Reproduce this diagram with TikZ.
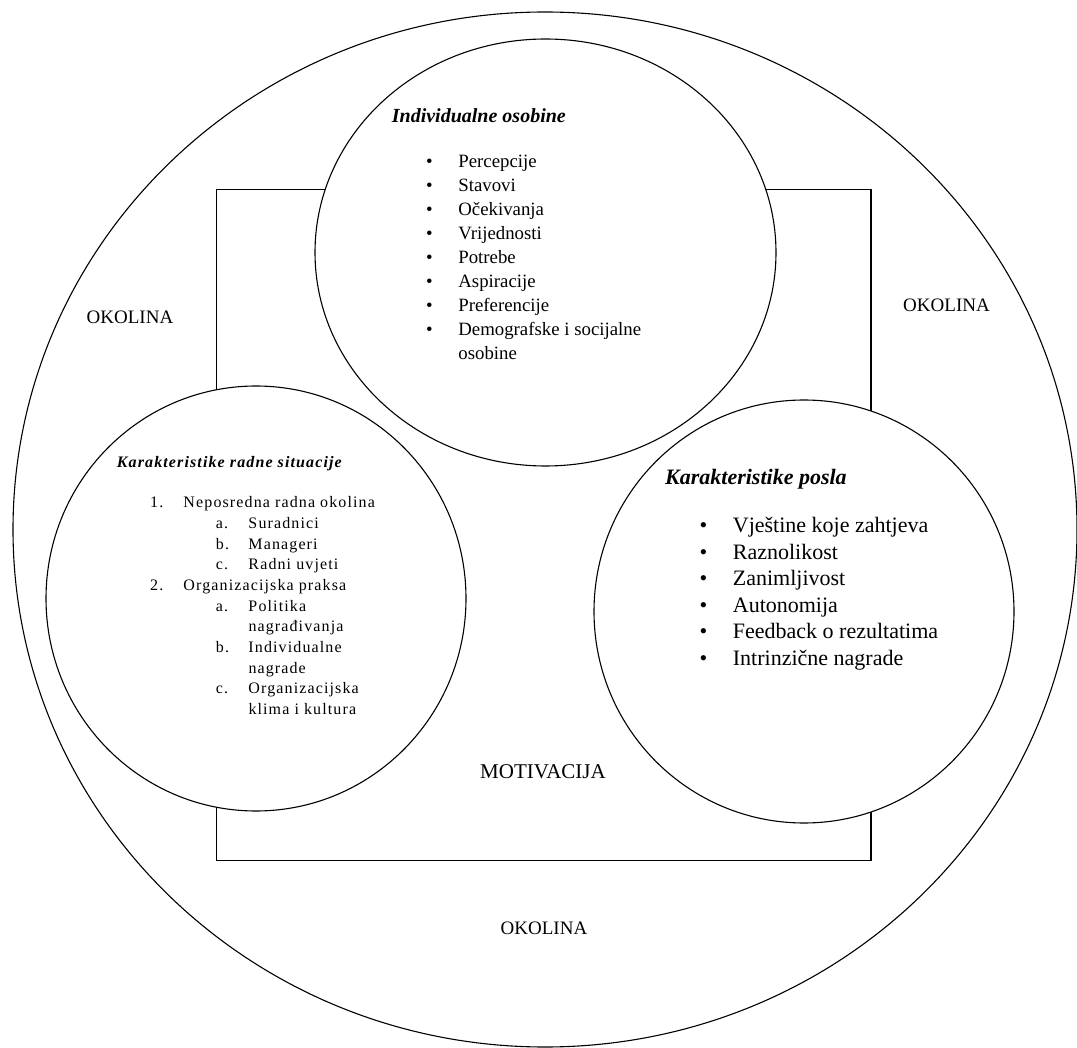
\documentclass[tikz,border=0pt]{standalone}
\usepackage{fontspec}
\setmainfont{Liberation Serif}
\newfontfamily\widefont[LetterSpace=7]{Liberation Serif}
\usetikzlibrary{calc}
\usetikzlibrary{shapes.geometric}
\usetikzlibrary{positioning}
\tikzstyle{circ} = [ellipse, draw, fill=white, line width=1.1pt, inner sep=0pt, outer sep=0pt]
\tikzstyle{word} = [inner sep=0pt, anchor=base]
\tikzstyle{heading} = [inner sep=0pt, anchor=base west]
\tikzstyle{itemlist} = [inner sep=0pt, anchor=base west]

\begin{document}
\begin{tikzpicture}[x=1pt, y=-1pt]
    \useasboundingbox (0,0) rectangle (1077,1048);
    % Draw outer circle and box
    \node[ellipse, draw, line width=1.1pt, inner sep=0pt, minimum width=1064pt, minimum height=1035pt] (okolina) at (545,529.5) {};
    \draw[line width=1.1pt] (216.5,189.5) rectangle (871,860.5);
    % Place circles
    \node[circ, minimum width=461pt, minimum height=427pt] (indiv) at (545.5,252.5) {};
    \node[circ, minimum width=420pt, minimum height=425pt] (situacija) at (256,598.5) {};
    \node[circ, minimum width=420pt, minimum height=423pt] (posao) at (804,611.5) {};
    % Individualne osobine
    \node[heading, font=\fontsize{20}{24}\selectfont\bfseries\itshape] (indivtitle)
        at ($(indiv.center)+(-153.8,-129.8)$) {Individualne osobine};
    \node[itemlist, font=\fontsize{18.8}{24}\selectfont] (indivlist)
        at ($(indiv.center)+(-119.5,-85.2)$) {\begin{tabular}[t]{@{}p{32.2pt}@{}l@{}}
        • & Percepcije\\
        • & Stavovi\\
        • & Očekivanja\\
        • & Vrijednosti\\
        • & Potrebe\\
        • & Aspiracije\\
        • & Preferencije\\
        • & Demografske i socijalne\\
          & osobine
        \end{tabular}};
    % Karakteristike radne situacije
    \node[heading, font=\widefont\fontsize{16}{20.7}\selectfont\bfseries\itshape] (sittitle)
        at ($(situacija.center)+(-139.3,-131.2)$) {Karakteristike radne situacije};
    \node[itemlist, font=\widefont\fontsize{16}{20.7}\selectfont] (sitlist)
        at ($(situacija.center)+(-106,-90.8)$) {\begin{tabular}[t]{@{}p{33.3pt}@{}p{32.4pt}@{}p{32.6pt}@{}l@{}}
        1. & \multicolumn{3}{@{}l@{}}{Neposredna radna okolina}\\
           & & a. & Suradnici\\
           & & b. & Manageri\\
           & & c. & Radni uvjeti\\
        2. & \multicolumn{3}{@{}l@{}}{Organizacijska praksa}\\
           & & a. & Politika\\
           & & & nagrađivanja\\
           & & b. & Individualne\\
           & & & nagrade\\
           & & c. & Organizacijska\\
           & & & klima i kultura
        \end{tabular}};
    % Karakteristike posla
    \node[heading, font=\fontsize{22}{26.5}\selectfont\bfseries\itshape] (posaotitle)
        at ($(posao.center)+(-139,-126.5)$) {Karakteristike posla};
    \node[itemlist, font=\fontsize{22}{26.5}\selectfont] (posaolist)
        at ($(posao.center)+(-104.5,-78.8)$) {\begin{tabular}[t]{@{}p{33.2pt}@{}l@{}}
        • & Vještine koje zahtjeva\\
        • & Raznolikost\\
        • & Zanimljivost\\
        • & Autonomija\\
        • & Feedback o rezultatima\\
        • & Intrinzične nagrade
        \end{tabular}};
    % Outer labels
    \node[word, font=\fontsize{19}{23}\selectfont] (okolinaleft) at (130,324) {OKOLINA};
    \node[word, font=\fontsize{19}{23}\selectfont] (okolinaright) at (946.5,311.5) {OKOLINA};
    \node[word, font=\fontsize{19}{23}\selectfont] (okolinabottom) at (544,934) {OKOLINA};
    \node[word, font=\fontsize{21}{25}\selectfont] (motivacija) at (543,778) {MOTIVACIJA};
\end{tikzpicture}
\end{document}
